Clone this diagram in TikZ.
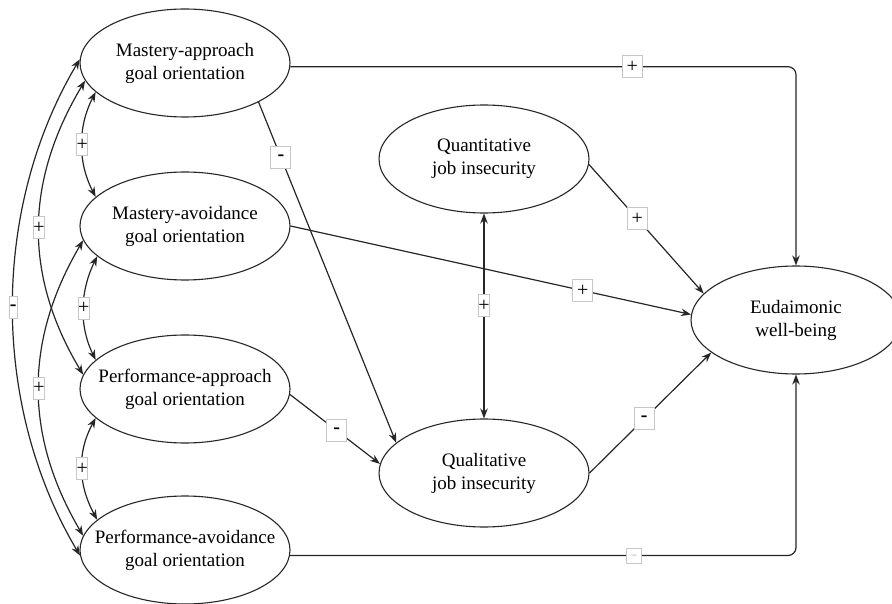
\documentclass[tikz,border=0pt]{standalone}
\usepackage{fontspec}
\setmainfont{Liberation Serif}
\newfontfamily\diagfont{Liberation Serif}
\usetikzlibrary{arrows.meta,shapes.geometric}

\begin{document}
\begin{tikzpicture}[x=1pt,y=-1pt,
  latent/.style={ellipse, draw=black!85, line width=1.1pt, fill=white,
    inner xsep=-30pt, inner ysep=0pt, minimum width=210pt, minimum height=108pt,
    align=center, font=\diagfont\fontsize{19}{23}\selectfont},
  tip/.tip={Stealth[length=10pt,width=7.5pt]},
  effect/.style={draw=black!85, line width=1.2pt, -tip},
  covar/.style={draw=black!85, line width=1.2pt, tip-tip},
  sign/.style={rectangle, sharp corners, draw=black!22, fill=white, line width=0.8pt,
    inner sep=0pt, minimum width=20pt, minimum height=22pt,
    font=\diagfont\fontsize{20}{20}\selectfont},
  slim/.style={sign, minimum width=11pt},
  slimmer/.style={sign, minimum width=8pt},
  tinysign/.style={sign, minimum width=15pt, minimum height=15pt},
]
\useasboundingbox (0,0) rectangle (892,604);

% latent variables
\node[latent] (MAp) at (185,63)  {Mastery-approach\\goal orientation};
\node[latent] (MAv) at (185,226) {Mastery-avoidance\\goal orientation};
\node[latent] (PAp) at (185,389) {Performance-approach\\goal orientation};
\node[latent] (PAv) at (185,550) {Performance-avoidance\\goal orientation};
\node[latent] (QnJ) at (484,159) {Quantitative\\job insecurity};
\node[latent] (QlJ) at (484,473) {Qualitative\\job insecurity};
\node[latent] (Eud) at (796,320) {Eudaimonic\\well-being};

% direct paths to well-being
\draw[effect, rounded corners=8pt] (MAp.-2) -| node[sign, pos=0.338] {+} (Eud);
\draw[effect, rounded corners=8pt] (PAv.-3) -| node[tinysign, pos=0.34]
  {\textcolor{black!45}{\fontsize{10}{10}\selectfont\_}} (Eud);
\draw[effect] (MAv.east) -- node[sign, pos=0.73] {+} (Eud.177);
\draw[effect] (QnJ.-3) -- node[sign, pos=0.42] {+} (Eud.164);
\draw[effect] (QlJ.east) -- node[sign, pos=0.45] {\textbf{-}} (Eud.201);

% paths to qualitative job insecurity
\draw[effect] (MAp.332) -- node[sign, pos=0.162] {\textbf{-}} (QlJ.161);
\draw[effect] (PAp.-3) -- node[sign, pos=0.52] {\textbf{-}} (QlJ.175);
\draw[covar] (QnJ.south) -- node[slim, pos=0.45] {+} (QlJ.north);

% covariances among goal orientations
\draw[covar] (MAp.198) .. controls +(-18,35) and +(-18,-35) .. node[slim] {+} (MAv.162);
\draw[covar] (MAv.199) .. controls +(-17,35) and +(-17,-35) .. node[slim] {+} (PAp.162);
\draw[covar] (PAp.198) .. controls +(-19,35) and +(-19,-35) .. node[slim] {+} (PAv.161);
\draw[covar] (MAp.190) .. controls +(-60,100) and +(-60,-100) .. node[slim] {+} (PAp.172);
\draw[covar] (MAv.188) .. controls +(-59,100) and +(-59,-100) .. node[slim] {+} (PAv.172);
\draw[covar] (MAp.178) .. controls +(-89,150) and +(-89,-150) .. node[slimmer] {\textbf{-}} (PAv.183);
\end{tikzpicture}
\end{document}
